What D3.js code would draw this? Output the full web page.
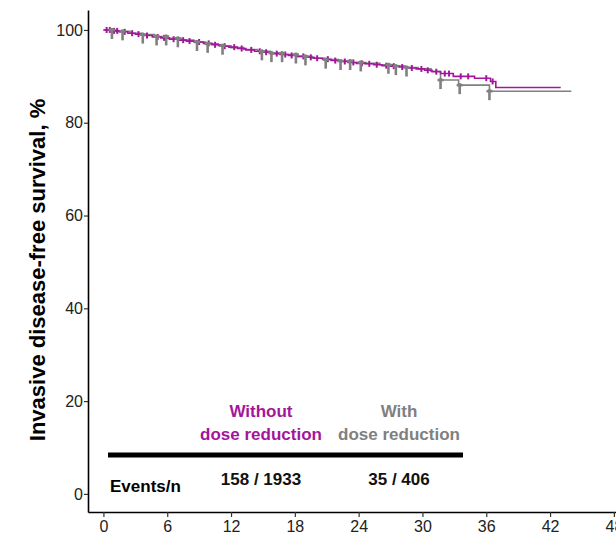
<!DOCTYPE html>
<html><head><meta charset="utf-8">
<script src="https://cdn.jsdelivr.net/npm/d3@7"></script>
<style>body{margin:0;background:#fff}svg{display:block;font-family:"Liberation Sans",Arial,sans-serif}</style>
</head><body><svg id="c" width="616" height="542"></svg>
<script>
const xTicks = [0, 6, 12, 18, 24, 30, 36, 42, 48];
const yTicks = [0, 20, 40, 60, 80, 100];
const groups = ["Without\ndose reduction", "With\ndose reduction"];
const eventsN = ["158 / 1933", "35 / 406"];
// KM steps [month, survival %]
const kmWithout = [[0,100],[0.8,99.8],[1.5,99.6],[2.3,99.3],[3.0,99.1],[3.8,98.8],[4.6,98.5],[5.4,98.3],[6.2,98.0],[7.0,97.8],[7.8,97.6],[8.6,97.4],[9.4,97.1],[10.2,96.8],[11.0,96.5],[11.8,96.3],[12.6,96.0],[13.4,95.7],[14.2,95.4],[15.0,95.2],[15.8,94.9],[16.6,94.7],[17.4,94.5],[18.2,94.3],[19.0,94.1],[19.8,93.9],[20.6,93.7],[21.4,93.4],[22.2,93.2],[23.0,93.0],[23.8,92.8],[24.6,92.7],[25.4,92.5],[26.2,92.3],[27.0,92.2],[27.8,92.0],[28.6,91.8],[29.4,91.6],[30.2,91.3],[30.9,91.0],[31.7,90.6],[32.9,90.0],[34.9,89.6],[36.4,88.9],[36.9,87.6],[43.0,87.6]];
const kmWith = [[0,100],[1.2,99.7],[2.5,99.3],[3.6,99.0],[4.8,98.6],[6.0,98.2],[7.3,97.8],[8.5,97.4],[9.6,97.0],[10.8,96.6],[12.0,96.2],[13.2,95.8],[14.5,95.4],[15.7,95.0],[17.0,94.7],[18.3,94.3],[19.6,93.9],[20.8,93.6],[22.1,93.3],[23.4,93.0],[24.7,92.8],[26.0,92.5],[27.2,92.2],[28.4,91.9],[29.6,91.6],[30.8,91.1],[31.7,89.2],[33.4,88.1],[36.3,86.8],[44.0,86.8]];
const censWithout = [0.3,0.6,1.0,1.3,2.0,2.7,3.3,4.1,5.1,5.7,6.6,7.5,8.1,9.0,9.9,10.5,11.4,12.3,13.0,13.9,14.7,15.3,16.3,17.1,17.7,18.8,19.5,20.1,21.1,21.8,22.7,23.5,24.3,25.0,25.7,26.6,27.3,28.1,29.0,29.9,30.5,31.3,32.1,32.5,33.6,34.3,36.0,36.6];
const censWith = [0.8,1.8,3.7,5.0,5.9,7.0,8.8,9.8,11.2,14.9,15.8,16.8,18.1,19.0,20.9,22.3,23.2,24.2,26.8,27.5,28.5,31.7,33.5,36.3];

const colWithout = "#a3169c", colWith = "#808080";
const svg = d3.select("#c");
const x = d3.scaleLinear().domain([-1.45, 48.2]).range([88, 616]);
const y = d3.scaleLinear().domain([-3.9, 104.3]).range([512, 10]);

const stepLine = d3.line().x(d => x(d[0])).y(d => y(d[1])).curve(d3.curveStepAfter);
const valAt = (km, t) => { let v = km[0][1]; for (const p of km) { if (p[0] <= t) v = p[1]; } return v; };

// axes
const ya = svg.append("g").attr("transform", "translate(88,0)")
  .call(d3.axisLeft(y).tickValues(yTicks).tickSize(4).tickSizeOuter(0));
const xa = svg.append("g").attr("transform", "translate(0,512)")
  .call(d3.axisBottom(x).tickValues(xTicks).tickSize(5).tickSizeOuter(0));
[ya, xa].forEach(a => {
  a.select(".domain").attr("stroke", "#000").attr("stroke-width", 1.6);
  a.selectAll(".tick line").attr("stroke", "#333").attr("stroke-width", 1.2);
  a.selectAll(".tick text").attr("font-size", 16).attr("fill", "#222").attr("font-family", "'Liberation Sans',Arial,sans-serif");
});
ya.selectAll(".tick text").attr("x", -5);
xa.selectAll(".tick text").attr("y", 9);

svg.append("text").attr("transform", "translate(45,270) rotate(-90)")
  .attr("text-anchor", "middle").attr("font-size", 22).attr("font-weight", "bold").attr("fill", "#000")
  .text("Invasive disease-free survival, %");

// curves
svg.append("path").attr("d", stepLine(kmWith)).attr("fill", "none").attr("stroke", colWith).attr("stroke-width", 1.6);
svg.append("path").attr("d", stepLine(kmWithout)).attr("fill", "none").attr("stroke", colWithout).attr("stroke-width", 1.6);

svg.append("g").selectAll("line").data(censWithout).join("line")
  .attr("x1", d => x(d)).attr("x2", d => x(d))
  .attr("y1", d => y(valAt(kmWithout, d)) - 3).attr("y2", d => y(valAt(kmWithout, d)) + 3)
  .attr("stroke", colWithout).attr("stroke-width", 2);
const gc = svg.append("g").selectAll("g").data(censWith).join("g")
  .attr("transform", d => `translate(${x(d)},${y(valAt(kmWith, d))})`);
gc.append("line").attr("x1", 0).attr("x2", 0).attr("y1", -2).attr("y2", 9).attr("stroke", colWith).attr("stroke-width", 2.6);
gc.append("line").attr("x1", -3).attr("x2", 3).attr("y1", 0).attr("y2", 0).attr("stroke", colWith).attr("stroke-width", 2.6);

// table
const gx = [261, 399], gcol = [colWithout, colWith];
groups.forEach((g, i) => {
  const t = svg.append("text").attr("text-anchor", "middle").attr("font-size", 17).attr("font-weight", "bold").attr("fill", gcol[i]);
  g.split("\n").forEach((s, j) => t.append("tspan").attr("x", gx[i]).attr("y", 417 + j * 23).text(s));
  svg.append("text").attr("x", gx[i]).attr("y", 485).attr("text-anchor", "middle").attr("font-size", 17)
    .attr("font-weight", "bold").attr("fill", "#111").text(eventsN[i]);
});
svg.append("line").attr("x1", 108).attr("x2", 463).attr("y1", 455).attr("y2", 455).attr("stroke", "#000").attr("stroke-width", 5);
svg.append("text").attr("x", 110).attr("y", 492).attr("font-size", 17).attr("font-weight", "bold").attr("fill", "#000").text("Events/n");
</script></body></html>
